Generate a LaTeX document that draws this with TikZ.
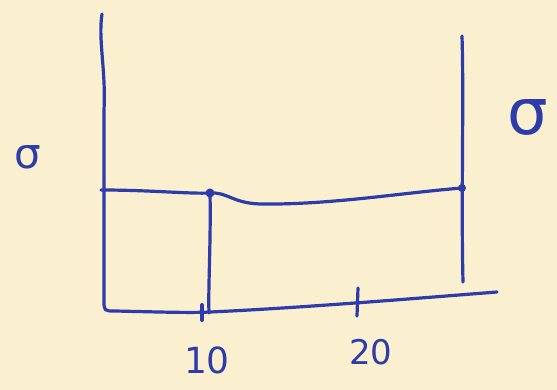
\documentclass[tikz,border=0pt]{standalone}
\usepackage{fontspec}
\newfontfamily\gk{DejaVu Sans}
\definecolor{paper}{RGB}{250,240,207}
\definecolor{ink}{RGB}{45,60,170}
\begin{document}
\begin{tikzpicture}[x=1pt,y=-1pt,
  pen/.style={draw=ink,line width=3.2pt,line cap=round,line join=round},
  lbl/.style={text=ink,inner sep=0pt,font=\gk},
  blob/.style={circle,fill=ink,inner sep=0pt,minimum size=9pt}]
\useasboundingbox[fill=paper] (0,0) rectangle (557,390);
% key points
\coordinate (ltop) at (102,14);
\coordinate (lbot) at (104,300);
\coordinate (rtop) at (462,36);
\coordinate (rbot) at (463,282);
\coordinate (hl) at (101,190);
\coordinate (xend) at (497,292);
\coordinate (t10a) at (202,305);
\coordinate (t10b) at (202,320);
\coordinate (t20a) at (358,288);
\coordinate (t20b) at (357,316);
\coordinate (vbot) at (209,313);
\node[blob] (p1) at (210,193) {};
\node[blob,minimum size=8pt] (p2) at (462,188) {};
% left axis and bottom axis
\draw[pen] (ltop) .. controls (98,40) and (106,70) .. (104,110)
  -- (lbot) .. controls (104,311) .. (115,311)
  .. controls (160,312) and (190,313) .. (210,312)
  .. controls (300,308) and (420,298) .. (xend);
% right vertical
\draw[pen] (rtop) .. controls (464,100) and (461,200) .. (rbot);
% horizontal line
\draw[pen] (hl) .. controls (150,190) and (190,194) .. (p1.center)
  .. controls (228,192) and (232,203) .. (260,204)
  .. controls (330,205) and (400,193) .. (p2.center);
% vertical at 10
\draw[pen] (p1.center) .. controls (211,240) and (208,290) .. (vbot);
% ticks
\draw[pen,line width=4pt] (t10a) -- (t10b);
\draw[pen] (t20a) -- (t20b);
% labels
\node[lbl,font=\gk\fontsize{42}{42}\selectfont] (s1) at (28,157) {σ};
\node[lbl,font=\gk\fontsize{64}{64}\selectfont] (s2) at (528,117) {σ};
\node[lbl,font=\gk\fontsize{36}{36}\selectfont] (n10) at (207,360) {10};
\node[lbl,font=\gk\fontsize{34}{34}\selectfont] (n20) at (371,352) {20};
\end{tikzpicture}
\end{document}
